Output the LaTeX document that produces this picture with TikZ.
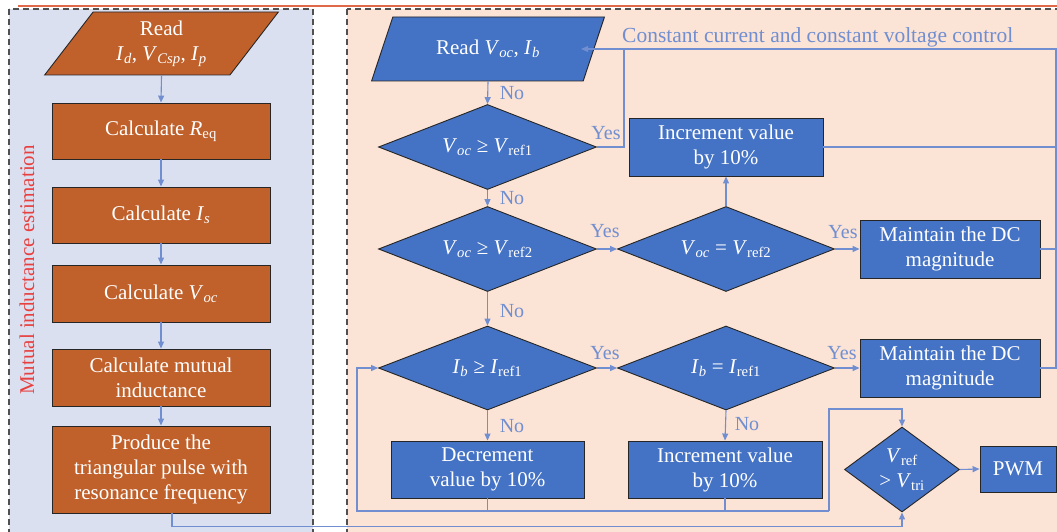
\documentclass[tikz,border=0pt]{standalone}
\usepackage{fontspec}
\setmainfont{Liberation Serif}
\usetikzlibrary{shapes.geometric,arrows.meta,calc}
\definecolor{linec}{RGB}{112,142,208}
\definecolor{nblue}{HTML}{4472C4}
\definecolor{norange}{HTML}{C0602B}
\definecolor{bgleft}{HTML}{DAE0F0}
\definecolor{bgright}{HTML}{FBE3D6}
\definecolor{redt}{HTML}{E8403F}
\definecolor{topl}{HTML}{E0694A}
\definecolor{dashg}{HTML}{505050}
\newcommand{\vsub}[2]{\textit{#1}\textsubscript{#2}}
\newcommand{\visub}[2]{\textit{#1}\textsubscript{\textit{#2}}}
\begin{document}
\begin{tikzpicture}[x=1pt,y=-1pt,
  font=\fontsize{21}{25}\selectfont,
  box/.style={draw=black!85, line width=0.9pt, text=white, align=center, inner sep=0pt},
  bbox/.style={box, fill=nblue},
  obox/.style={box, fill=norange},
  dia/.style={bbox, diamond, shape aspect=2.56},
  conn/.style={draw=linec, line width=1.1pt, -{Triangle[length=7pt,width=6pt]}},
  wire/.style={draw=linec, line width=1.1pt},
  lab/.style={text=linec, inner sep=0pt, font=\fontsize{20}{24}\selectfont},
  panel/.style={draw=dashg, line width=1.2pt, dash pattern=on 6pt off 4pt},
]
\useasboundingbox (0,0) rectangle (1057,532);
\clip (0,0) rectangle (1057,532);
% panels
\path[panel, fill=bgleft] (9,9) rectangle (313,545);
\path[panel, fill=bgright] (347,9) rectangle (1068,545);
\draw[topl, line width=1.5pt] (18,6) -- (1060,6);

% left column
\node[obox, trapezium, trapezium left angle=55, trapezium right angle=125,
      trapezium stretches=true, minimum width=234pt, minimum height=63pt]
      (lread) at (161.5,43.5) {Read\\\visub{I}{d}, \visub{V}{Csp}, \visub{I}{p}};
\node[obox, minimum width=218pt, minimum height=56pt] (req) at (161,131) {Calculate \vsub{R}{eq}};
\node[obox, minimum width=218pt, minimum height=56pt] (is) at (161,215) {Calculate \visub{I}{s}};
\node[obox, minimum width=218pt, minimum height=57pt] (voc) at (161,293.5) {Calculate \visub{V}{oc}};
\node[obox, minimum width=218pt, minimum height=57pt] (mut) at (161,377.5) {Calculate mutual\\inductance};
\node[obox, minimum width=218pt, minimum height=87pt] (prod) at (161,469.5) {Produce the\\triangular pulse with\\resonance frequency};
\node[text=redt, rotate=90] (mie) at (27,270) {Mutual inductance estimation};

\draw[conn] (lread.south) -- (req.north);
\draw[conn] (req.south) -- (is.north);
\draw[conn] (is.south) -- (voc.north);
\draw[conn] (voc.south) -- (mut.north);
\draw[conn] (mut.south) -- (prod.north);

% right column
\node[bbox, trapezium, trapezium left angle=57, trapezium right angle=123,
      trapezium stretches=true, minimum width=233pt, minimum height=64pt]
      (rread) at (488,49) {Read \visub{V}{oc}, \visub{I}{b}};
\node[dia, minimum width=218pt, minimum height=85pt] (d1) at (487.5,147) {\visub{V}{oc} ≥ \vsub{V}{ref1}};
\node[bbox, minimum width=194pt, minimum height=58pt] (inc1) at (726,147) {Increment value\\by 10\%};
\node[dia, minimum width=218pt, minimum height=85pt] (d2) at (487.5,249) {\visub{V}{oc} ≥ \vsub{V}{ref2}};
\node[dia, minimum width=217pt, minimum height=85pt] (d3) at (726,249) {\visub{V}{oc} = \vsub{V}{ref2}};
\node[bbox, minimum width=180pt, minimum height=58pt] (m1) at (950,249) {Maintain the DC\\magnitude};
\node[dia, minimum width=218pt, minimum height=84pt] (d4) at (487.5,368) {\visub{I}{b} ≥ \vsub{I}{ref1}};
\node[dia, minimum width=217pt, minimum height=84pt] (d5) at (726,368) {\visub{I}{b} = \vsub{I}{ref1}};
\node[bbox, minimum width=180pt, minimum height=58pt] (m2) at (950,368) {Maintain the DC\\magnitude};
\node[bbox, minimum width=193pt, minimum height=57pt] (dec) at (487.5,469.5) {Decrement\\value by 10\%};
\node[bbox, minimum width=194pt, minimum height=57pt] (inc2) at (725,469.5) {Increment value\\by 10\%};
\node[bbox, diamond, minimum width=115pt, minimum height=85pt] (vref) at (902,469.5) {};
\node[text=white, align=center, inner sep=0pt] (vreft) at (902,469.5) {\vsub{V}{ref}\\> \vsub{V}{tri}};
\node[bbox, minimum width=76pt, minimum height=46pt] (pwm) at (1018,469) {PWM};

\node[text=linec, anchor=west, inner sep=0pt, font=\fontsize{21.5}{25}\selectfont] (cccv) at (622,37) {Constant current and constant voltage control};

\coordinate (yc) at (624,49);
\coordinate (bus) at (1056,49);
\coordinate (lb) at (357,511);
\coordinate (rb) at (829,511);
\coordinate (rt) at (829,409);

% connectors
\draw[conn] (rread.south) -- (d1.north);
\draw[conn] (d1.south) -- (d2.north);
\draw[conn] (d2.south) -- (d4.north);
\draw[conn] (d4.south) -- (dec.north);
\draw[conn] (d5.south) -- (inc2.north);
\draw[conn] (d1.east) -| (yc) -- ([xshift=93pt]rread.center);
\draw[wire] (yc) -- (bus) |- (m2.east);
\draw[wire] (inc1.east) -- (inc1.east -| bus);
\draw[wire] (m1.east) -- (m1.east -| bus);
\draw[conn] (d3.north) -- (inc1.south);
\draw[conn] (d2.east) -- (d3.west);
\draw[conn] (d3.east) -- (m1.west);
\draw[conn] (d4.east) -- (d5.west);
\draw[conn] (d5.east) -- (m2.west);
\draw[wire] (dec.south) -- (dec.south |- lb);
\draw[wire] (inc2.south) -- (inc2.south |- lb);
\draw[conn] (rb) -- (lb) |- (d4.west);
\draw[conn] (rb) -- (rt) -| (vref.north);
\draw[conn] (vref.east) -- (pwm.west);
\draw[conn] ([xshift=11pt]prod.south) -- ++(0,13) -| (vref.south);

% labels
\node[lab] (n1) at (512,93) {No};
\node[lab] (n2) at (512,198) {No};
\node[lab] (n3) at (512,311) {No};
\node[lab] (n4) at (512,426) {No};
\node[lab] (n5) at (747,424) {No};
\node[lab] (y1) at (606,133) {Yes};
\node[lab] (y2) at (605,231) {Yes};
\node[lab] (y3) at (843,232) {Yes};
\node[lab] (y4) at (605,353) {Yes};
\node[lab] (y5) at (842,353) {Yes};
\end{tikzpicture}
\end{document}
